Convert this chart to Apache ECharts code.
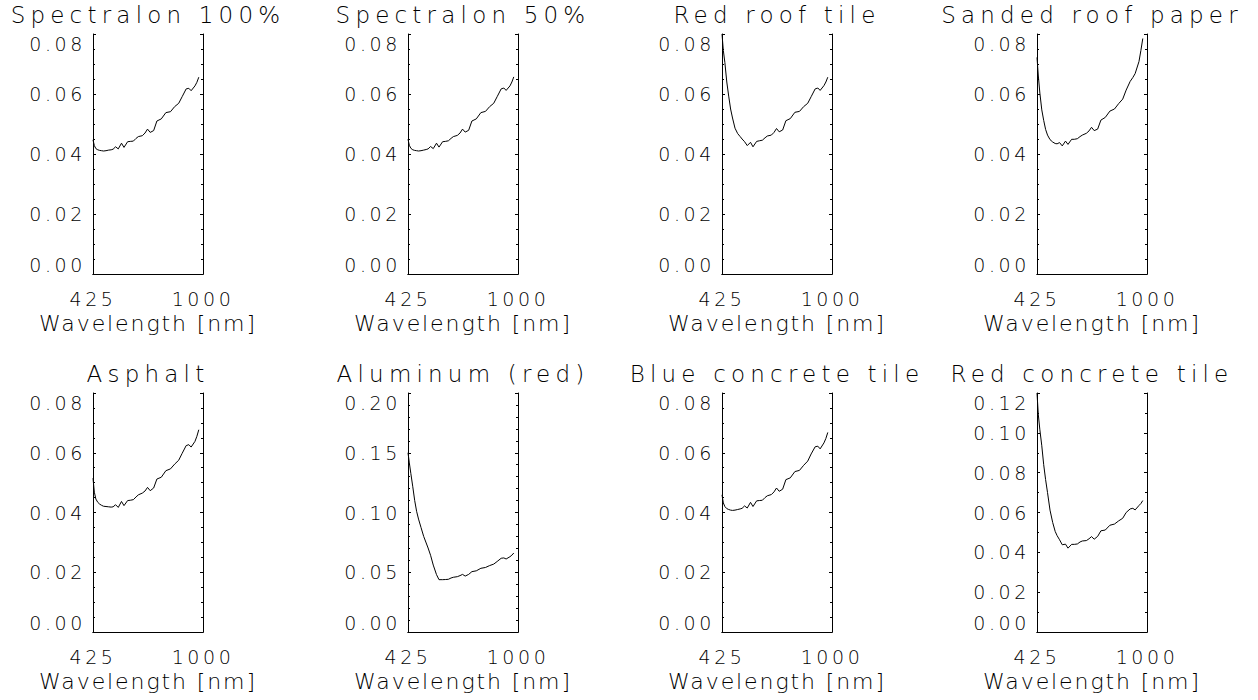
<!DOCTYPE html>
<html>
<head>
<meta charset="utf-8">
<script src="https://cdn.jsdelivr.net/npm/echarts@6/dist/echarts.min.js"></script>
<style>
  html, body { margin: 0; padding: 0; background: #fff; }
  #chart { width: 1258px; height: 700px; }
  /* wide, evenly spaced lettering for panel titles, axis names and tick labels */
  #chart text[style*="23px"] { letter-spacing: 5.2px; }
  #chart text[style*="22px"] { letter-spacing: 1.9px; }
  #chart text[style*="19px"] { letter-spacing: 3.6px; }
</style>
</head>
<body>
<div id="chart"></div>
<script>
// Wavelength samples (nm) shared by every spectrum
const WAVELENGTHS = [425, 432, 440, 450, 460, 470, 480, 493, 507, 520,
                     530, 543, 557, 574, 587, 606, 620, 636, 650, 662,
                     683, 697, 710, 724, 742, 759, 782, 806, 830, 852,
                     873, 891, 912, 926, 938, 958, 968, 978];

const X_TICKS = [425, 1000];

const MATERIALS = ['Spectralon 100%', 'Spectralon 50%', 'Red roof tile', 'Sanded roof paper',
                   'Asphalt', 'Aluminum (red)', 'Blue concrete tile', 'Red concrete tile'];

const SPECTRALON_100 = [0.0447, 0.0428, 0.0418, 0.0414, 0.0412, 0.0411, 0.0410, 0.0411, 0.0413, 0.0414,
                        0.0416, 0.0424, 0.0417, 0.0436, 0.0422, 0.0441, 0.0442, 0.0443, 0.0452, 0.0458,
                        0.0461, 0.0470, 0.0483, 0.0472, 0.0478, 0.0510, 0.0517, 0.0538, 0.0541, 0.0558,
                        0.0569, 0.0591, 0.0617, 0.0619, 0.0611, 0.0627, 0.0639, 0.0656];
const SPECTRALON_50 = [0.0449, 0.0429, 0.0419, 0.0414, 0.0412, 0.0411, 0.0410, 0.0411, 0.0413, 0.0415,
                       0.0417, 0.0425, 0.0418, 0.0436, 0.0423, 0.0441, 0.0442, 0.0444, 0.0452, 0.0458,
                       0.0462, 0.0470, 0.0483, 0.0473, 0.0479, 0.0510, 0.0517, 0.0538, 0.0542, 0.0558,
                       0.0569, 0.0591, 0.0617, 0.0620, 0.0612, 0.0627, 0.0640, 0.0657];
const RED_ROOF_TILE = [0.0800, 0.0745, 0.0705, 0.0640, 0.0593, 0.0550, 0.0520, 0.0486, 0.0468, 0.0458,
                       0.0450, 0.0441, 0.0428, 0.0439, 0.0424, 0.0442, 0.0444, 0.0446, 0.0454, 0.0460,
                       0.0463, 0.0472, 0.0485, 0.0474, 0.0480, 0.0511, 0.0518, 0.0539, 0.0542, 0.0558,
                       0.0569, 0.0591, 0.0617, 0.0620, 0.0612, 0.0628, 0.0640, 0.0656];
const SANDED_ROOF_PAPER = [0.0722, 0.0660, 0.0603, 0.0547, 0.0512, 0.0482, 0.0463, 0.0448, 0.0440, 0.0435,
                           0.0434, 0.0438, 0.0427, 0.0443, 0.0432, 0.0449, 0.0449, 0.0451, 0.0458, 0.0463,
                           0.0469, 0.0477, 0.0489, 0.0478, 0.0483, 0.0513, 0.0522, 0.0543, 0.0550, 0.0568,
                           0.0583, 0.0613, 0.0642, 0.0655, 0.0668, 0.0708, 0.0745, 0.0785];
const ASPHALT = [0.0515, 0.0468, 0.0445, 0.0434, 0.0428, 0.0424, 0.0421, 0.0420, 0.0419, 0.0418,
                 0.0419, 0.0426, 0.0417, 0.0437, 0.0423, 0.0440, 0.0441, 0.0443, 0.0452, 0.0459,
                 0.0465, 0.0472, 0.0484, 0.0473, 0.0482, 0.0512, 0.0518, 0.0540, 0.0546, 0.0562,
                 0.0575, 0.0598, 0.0624, 0.0627, 0.0619, 0.0638, 0.0655, 0.0677];
const ALUMINUM_RED = [0.1500, 0.1415, 0.1325, 0.1215, 0.1100, 0.1010, 0.0945, 0.0875, 0.0800, 0.0745,
                      0.0703, 0.0642, 0.0560, 0.0480, 0.0438, 0.0438, 0.0439, 0.0441, 0.0452, 0.0458,
                      0.0463, 0.0472, 0.0482, 0.0468, 0.0482, 0.0505, 0.0512, 0.0533, 0.0540, 0.0556,
                      0.0568, 0.0590, 0.0617, 0.0620, 0.0611, 0.0630, 0.0643, 0.0661];
const BLUE_CONCRETE_TILE = [0.0459, 0.0432, 0.0420, 0.0413, 0.0410, 0.0408, 0.0407, 0.0408, 0.0410, 0.0412,
                            0.0414, 0.0422, 0.0415, 0.0434, 0.0420, 0.0439, 0.0440, 0.0441, 0.0450, 0.0456,
                            0.0460, 0.0469, 0.0482, 0.0471, 0.0478, 0.0510, 0.0516, 0.0537, 0.0541, 0.0558,
                            0.0572, 0.0596, 0.0620, 0.0622, 0.0613, 0.0633, 0.0648, 0.0668];
const RED_CONCRETE_TILE = [0.1200, 0.1090, 0.1015, 0.0935, 0.0840, 0.0765, 0.0700, 0.0612, 0.0550, 0.0505,
                           0.0484, 0.0463, 0.0438, 0.0441, 0.0421, 0.0440, 0.0440, 0.0442, 0.0452, 0.0457,
                           0.0459, 0.0468, 0.0479, 0.0466, 0.0480, 0.0508, 0.0512, 0.0536, 0.0542, 0.0558,
                           0.0571, 0.0600, 0.0618, 0.0621, 0.0613, 0.0635, 0.0645, 0.0660];

const REFLECTANCE = [SPECTRALON_100, SPECTRALON_50, RED_ROOF_TILE, SANDED_ROOF_PAPER,
                     ASPHALT, ALUMINUM_RED, BLUE_CONCRETE_TILE, RED_CONCRETE_TILE];

// y scale of each panel: top value, major step, minor divisions
const Y_MAX   = [0.08, 0.08, 0.08, 0.08, 0.08, 0.20, 0.08, 0.12];
const Y_STEP  = [0.02, 0.02, 0.02, 0.02, 0.02, 0.05, 0.02, 0.02];
const Y_MINOR = [4, 4, 4, 4, 4, 5, 4, 2];

// panel layout (pixels)
const COL_LEFT = [93, 408, 722, 1037];
const ROW_TOP = [34, 393];
const ROW_HEIGHT = [240, 239];
const TITLE_TOP = [3, 362];
const BOX_W = 110;

const FONT = 'DejaVu Sans';
const INK = '#000';
const thin = { color: INK, width: 1 };

const grid = [], xAxis = [], yAxis = [], series = [], title = [];

MATERIALS.forEach((name, i) => {
  const row = Math.floor(i / 4), col = i % 4;
  const left = COL_LEFT[col], top = ROW_TOP[row];

  grid.push({ left: left, top: top, width: BOX_W, height: ROW_HEIGHT[row], containLabel: false });

  title.push({
    text: name, left: left + BOX_W / 2, top: TITLE_TOP[row], textAlign: 'center', padding: 0,
    textStyle: { fontFamily: FONT, fontWeight: 200, fontSize: 23, color: INK }
  });

  const xBase = {
    gridIndex: i, type: 'value', min: 425, max: 1000,
    splitLine: { show: false }, axisTick: { show: false },
    axisLine: { show: true, lineStyle: thin }
  };
  xAxis.push(Object.assign({}, xBase, {
    position: 'bottom',
    name: 'Wavelength [nm]', nameLocation: 'middle', nameGap: 38,
    nameTextStyle: { fontFamily: FONT, fontWeight: 200, fontSize: 22, color: INK },
    axisLabel: {
      customValues: X_TICKS, margin: 15, fontFamily: FONT, fontWeight: 200, fontSize: 19, color: INK,
      formatter: v => String(v)
    }
  }));
  xAxis.push(Object.assign({}, xBase, { position: 'top', axisLabel: { show: false } }));

  const yBase = {
    gridIndex: i, type: 'value', min: 0, max: Y_MAX[i], interval: Y_STEP[i],
    splitLine: { show: false },
    axisLine: { show: true, lineStyle: thin },
    axisTick: { show: true, inside: true, length: 3, lineStyle: thin },
    minorTick: { show: true, splitNumber: Y_MINOR[i], length: 2, lineStyle: thin }
  };
  yAxis.push(Object.assign({}, yBase, {
    position: 'left',
    axisLabel: {
      margin: 7, fontFamily: FONT, fontWeight: 200, fontSize: 19, color: INK,
      formatter: v => v.toFixed(2),
      verticalAlignMinLabel: 'bottom', verticalAlignMaxLabel: 'top'
    }
  }));
  yAxis.push(Object.assign({}, yBase, { position: 'right', axisLabel: { show: false } }));

  series.push({
    name: name, type: 'line', xAxisIndex: 2 * i, yAxisIndex: 2 * i,
    data: WAVELENGTHS.map((w, k) => [w, REFLECTANCE[i][k]]),
    symbol: 'none', showSymbol: false, clip: true,
    lineStyle: { color: INK, width: 1 }
  });
});

const chart = echarts.init(document.getElementById('chart'), null, { renderer: 'svg' });
chart.setOption({
  animation: false,
  backgroundColor: '#fff',
  title: title,
  grid: grid,
  xAxis: xAxis,
  yAxis: yAxis,
  series: series
});
</script>
</body>
</html>
